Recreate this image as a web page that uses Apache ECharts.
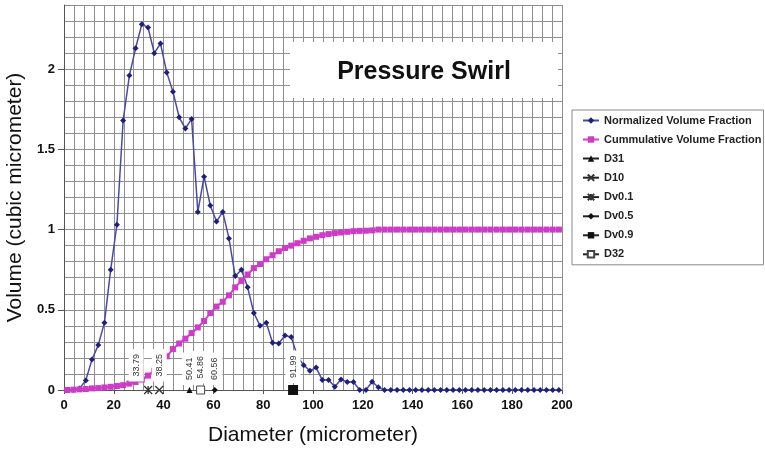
<!DOCTYPE html>
<html>
<head>
<meta charset="utf-8">
<script src="https://cdn.jsdelivr.net/npm/echarts@6/dist/echarts.min.js"></script>
<style>
html,body{margin:0;padding:0;background:#fff;}
#chart{width:765px;height:451px;}
</style>
</head>
<body>
<div id="chart"></div>
<script>
// ---- data ----
var diameters = [1.25, 3.75, 6.25, 8.75, 11.25, 13.75, 16.25, 18.75, 21.25, 23.75,
  26.25, 28.75, 31.25, 33.75, 36.25, 38.75, 41.25, 43.75, 46.25, 48.75,
  51.25, 53.75, 56.25, 58.75, 61.25, 63.75, 66.25, 68.75, 71.25, 73.75,
  76.25, 78.75, 81.25, 83.75, 86.25, 88.75, 91.25, 93.75, 96.25, 98.75,
  101.25, 103.75, 106.25, 108.75, 111.25, 113.75, 116.25, 118.75, 121.25, 123.75,
  126.25, 128.75, 131.25, 133.75, 136.25, 138.75, 141.25, 143.75, 146.25, 148.75,
  151.25, 153.75, 156.25, 158.75, 161.25, 163.75, 166.25, 168.75, 171.25, 173.75,
  176.25, 178.75, 181.25, 183.75, 186.25, 188.75, 191.25, 193.75, 196.25, 198.75];

var normalizedVolume = [0, 0, 0.01, 0.06, 0.19, 0.28, 0.42, 0.75, 1.03, 1.68,
  1.96, 2.13, 2.28, 2.26, 2.10, 2.16, 1.98, 1.86, 1.70, 1.63,
  1.69, 1.11, 1.33, 1.15, 1.05, 1.11, 0.945, 0.71, 0.75, 0.64,
  0.48, 0.40, 0.42, 0.295, 0.29, 0.34, 0.33, 0.21, 0.155, 0.12,
  0.14, 0.062, 0.062, 0.02, 0.066, 0.05, 0.05, 0, 0, 0.052,
  0.017, 0, 0, 0, 0, 0, 0, 0, 0, 0,
  0, 0, 0, 0, 0, 0, 0, 0, 0, 0,
  0, 0, 0, 0, 0, 0, 0, 0, 0, 0];

var cumulativeVolume = [0, 0.002, 0.004, 0.006, 0.01, 0.012, 0.016, 0.02, 0.025, 0.03,
  0.04, 0.05, 0.065, 0.09, 0.12, 0.16, 0.21, 0.255, 0.29, 0.32,
  0.355, 0.39, 0.43, 0.48, 0.52, 0.55, 0.59, 0.64, 0.68, 0.72,
  0.76, 0.785, 0.815, 0.84, 0.865, 0.885, 0.9, 0.915, 0.93, 0.945,
  0.955, 0.965, 0.972, 0.978, 0.982, 0.986, 0.99, 0.992, 0.993, 0.995,
  1, 1, 1, 1, 1, 1, 1, 1, 1, 1,
  1, 1, 1, 1, 1, 1, 1, 1, 1, 1,
  1, 1, 1, 1, 1, 1, 1, 1, 1, 1];

var markerNames = ['D31', 'D10', 'Dv0.1', 'Dv0.5', 'Dv0.9', 'D32'];
var markerValues = [50.41, 38.25, 33.79, 60.56, 91.99, 54.86];

var xTickLabels = [0, 20, 40, 60, 80, 100, 120, 140, 160, 180, 200];
var yTickLabels = [0, 0.5, 1, 1.5, 2];

var chartTitle = 'Pressure Swirl';
var seriesNames = ['Normalized Volume Fraction', 'Cummulative Volume Fraction'];

// ---- build ----
var FONT = '"Liberation Sans", Arial, sans-serif';
function pairs(xs, ys) { return xs.map(function (x, i) { return [x, ys[i]]; }); }

var markerStyles = {
  'D31':   { symbol: 'triangle', symbolSize: 6, itemStyle: { color: '#111' } },
  'D10':   { symbol: 'path://M0,0L10,10M10,0L0,10', symbolSize: 8,
             itemStyle: { color: 'none', borderColor: '#333', borderWidth: 1.3 } },
  'Dv0.1': { symbol: 'path://M0,0L10,10M10,0L0,10M5,0L5,10', symbolSize: 8,
             itemStyle: { color: 'none', borderColor: '#333', borderWidth: 1.3 } },
  'Dv0.5': { symbol: 'diamond', symbolSize: 6, itemStyle: { color: '#111' } },
  'Dv0.9': { symbol: 'rect', symbolSize: 10, itemStyle: { color: '#111' } },
  'D32':   { symbol: 'rect', symbolSize: 8,
             itemStyle: { color: '#fff', borderColor: '#444', borderWidth: 1 } }
};

var series = [
  {
    name: seriesNames[0], type: 'line', data: pairs(diameters, normalizedVolume),
    symbol: 'diamond', symbolSize: 6, z: 3,
    lineStyle: { color: '#4a4aa6', width: 1.5 },
    itemStyle: { color: '#1f1f7d' }
  },
  {
    name: seriesNames[1], type: 'line', data: pairs(diameters, cumulativeVolume),
    symbol: 'rect', symbolSize: 6, z: 3,
    lineStyle: { color: '#cc44c8', width: 2 },
    itemStyle: { color: '#cc3cc6' }
  }
];
markerNames.forEach(function (n, i) {
  var st = markerStyles[n];
  series.push({
    name: n, type: 'line', data: [[markerValues[i], 0]],
    symbol: st.symbol, symbolSize: st.symbolSize, itemStyle: st.itemStyle,
    lineStyle: { color: '#222', width: 1.2 }, z: 4,
    label: {
      show: true, position: 'top', distance: 2, rotate: 90,
      align: 'left', verticalAlign: 'middle',
      offset: n === 'Dv0.1' ? [0, -12] : [0, 0],
      formatter: function (p) { return p.value[0].toFixed(2); },
      fontSize: 9, fontFamily: FONT, color: '#333',
      backgroundColor: '#fff', padding: [3, 5]
    }
  });
});

var labelStyle = { fontSize: 13, fontWeight: 'bold', fontFamily: FONT, color: '#111', margin: 9 };

var chart = echarts.init(document.getElementById('chart'), null, { renderer: 'canvas' });
chart.setOption({
  animation: false,
  backgroundColor: '#fff',
  grid: { left: 64, right: 203, top: 5, bottom: 61, containLabel: false, outerBoundsMode: 'none' },
  xAxis: [
    { // grid lines every 4
      type: 'value', min: 0, max: 200, interval: 4,
      name: 'Diameter (micrometer)', nameLocation: 'middle', nameGap: 35,
      nameTextStyle: { fontSize: 21, fontFamily: FONT, color: '#111' },
      axisLine: { show: true, lineStyle: { color: '#555', width: 1 } },
      axisTick: { show: false },
      axisLabel: { show: false },
      splitLine: { show: true, lineStyle: { color: '#8e8e8e', width: 1 } }
    },
    { // labelled ticks every 20
      type: 'value', min: 0, max: 200, interval: 20, position: 'bottom',
      axisLine: { show: false },
      axisTick: { show: true, length: 4, lineStyle: { color: '#555' } },
      axisLabel: Object.assign({ customValues: xTickLabels }, labelStyle),
      splitLine: { show: false }
    }
  ],
  yAxis: [
    { // grid lines every 0.1
      type: 'value', min: 0, max: 2.4, interval: 0.1,
      name: 'Volume (cubic micrometer)', nameLocation: 'middle', nameGap: 38, nameRotate: 90,
      nameTextStyle: { fontSize: 21, fontFamily: FONT, color: '#111' },
      axisLine: { show: true, lineStyle: { color: '#555', width: 1 } },
      axisTick: { show: false },
      axisLabel: { show: false },
      splitLine: { show: true, lineStyle: { color: '#8e8e8e', width: 1 } }
    },
    { // labelled ticks every 0.5
      type: 'value', min: 0, max: 2.4, interval: 0.5, position: 'left',
      axisLine: { show: false },
      axisTick: { show: true, length: 6, customValues: yTickLabels, lineStyle: { color: '#555' } },
      axisLabel: Object.assign({ customValues: yTickLabels }, labelStyle),
      splitLine: { show: false }
    }
  ],
  legend: {
    orient: 'vertical', left: 572, top: 110,
    data: seriesNames.concat(markerNames),
    itemWidth: 16, itemHeight: 8, itemGap: 8,
    padding: [5, 2, 5, 10],
    backgroundColor: '#fff', borderColor: '#8a8a8a', borderWidth: 1,
    textStyle: { fontSize: 11, fontWeight: 'bold', fontFamily: FONT, color: '#222' },
    selectedMode: false
  },
  graphic: [
    { type: 'rect', shape: { x: 290, y: 42, width: 268, height: 56 }, style: { fill: '#fff' }, z: 10 },
    { type: 'text', x: 424, y: 72, z: 11,
      style: { text: chartTitle, fontSize: 25, fontWeight: 'bold', fontFamily: FONT, fill: '#111',
               align: 'center', verticalAlign: 'middle' } }
  ],
  series: series
});
</script>
</body>
</html>
